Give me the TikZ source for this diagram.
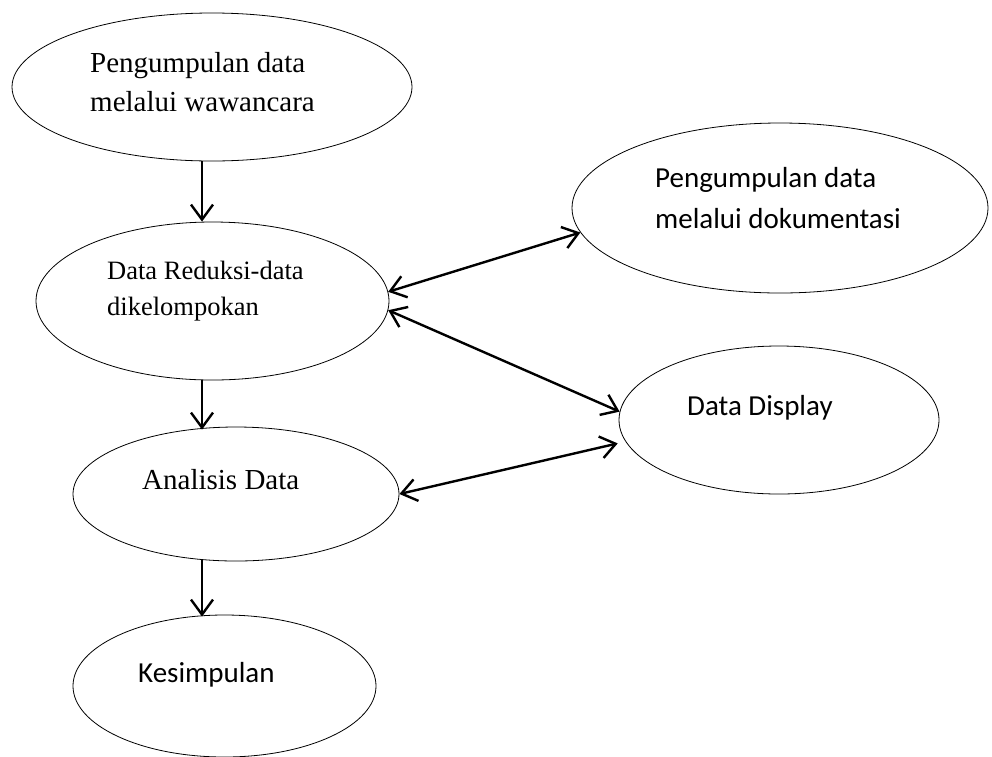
\documentclass[tikz,border=0pt]{standalone}
\usepackage{fontspec}
\setmainfont{Liberation Serif}
\newfontfamily\calibri{Carlito}
\usetikzlibrary{shapes.geometric,arrows.meta}

\begin{document}
\begin{tikzpicture}[x=1pt,y=-1pt,
  oval/.style={draw,ellipse,line width=0.8pt,inner sep=0pt},
  barb/.tip={Straight Barb[length=15pt,width=22pt,line width=2.4pt]},
  arr/.style={line width=2.4pt,-barb},
  darr/.style={line width=2.4pt,barb-barb},
  serif/.style={anchor=base west,align=left,inner sep=0pt,font=\fontsize{29}{39}\selectfont},
  sans/.style={anchor=base west,align=left,inner sep=0pt,font=\calibri\fontsize{29}{41}\selectfont}]
\useasboundingbox (0,0) rectangle (992,756);

% left column
\node[oval,minimum width=400pt,minimum height=148pt] (wawancara) at (212,87) {};
\node[oval,minimum width=353pt,minimum height=158pt] (reduksi) at (212.5,301) {};
\node[oval,minimum width=326pt,minimum height=134pt] (analisis) at (236,494) {};
\node[oval,minimum width=303pt,minimum height=142pt] (kesimpulan) at (224.5,686) {};

% right column
\node[oval,minimum width=416pt,minimum height=170pt] (dokumentasi) at (780,208) {};
\node[oval,minimum width=320pt,minimum height=148pt] (display) at (779,420) {};

% texts (base = last line)
\node[serif] (wawancaratxt) at (90,111) {Pengumpulan data\\melalui wawancara};
\node[serif,font=\fontsize{26.5}{36}\selectfont] (reduksitxt) at (107,315) {Data Reduksi-data\\dikelompokan};
\node[serif] (analisistxt) at (142,489) {Analisis Data};
\node[sans] (kesimpulantxt) at (138,682) {Kesimpulan};
\node[sans] (dokumentasitxt) at (655,228) {Pengumpulan data\\melalui dokumentasi};
\node[sans] (displaytxt) at (687,415) {Data Display};

% down arrows
\draw[arr] ([xshift=-10pt]wawancara.south) -- ([xshift=-10.5pt]reduksi.north);
\draw[arr] ([xshift=-10.5pt]reduksi.south) -- ([xshift=-34pt,yshift=-3pt]analisis.north);
\draw[arr] ([xshift=-34pt,yshift=2pt]analisis.south) -- ([xshift=-22.5pt,yshift=-2pt]kesimpulan.north);

% double arrows
\draw[darr] (reduksi.3) -- (dokumentasi.187);
\draw[darr] (reduksi.357) -- (display.177);
\draw[darr,shorten >=8pt] (analisis.0) -- (display.188);

\end{tikzpicture}
\end{document}
